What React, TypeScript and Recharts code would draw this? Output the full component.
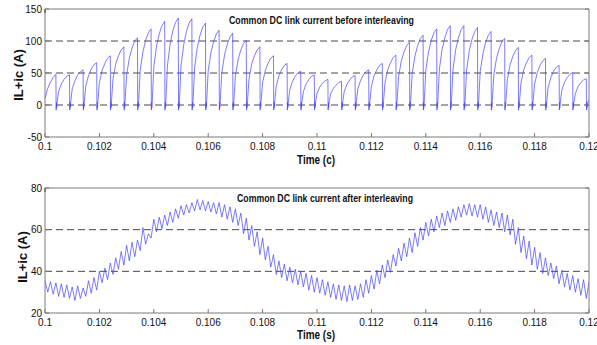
import React from 'react'
import { LineChart, Line, XAxis, YAxis, ReferenceLine } from 'recharts'

/* ---------- data ---------- */

const xTicks = [0.1, 0.102, 0.104, 0.106, 0.108, 0.11, 0.112, 0.114, 0.116, 0.118, 0.12]
const topYTicks = [-50, 0, 50, 100, 150]
const bottomYTicks = [20, 40, 60, 80]
const topGrid = [0, 50, 100]
const bottomGrid = [40, 60]

// before interleaving: first partial rise from 0.1 to the first drop at 0.1004
const pulseStart = [10, 26, 36, 43, 48]
// ringing right after each drop
const pulseFloor = [-8, 4, -4, 3]
// each following pulse: values 0.1, 0.2, 0.3, 0.4 ms after the drop, then the peak at the next drop
const pulseRows = [
  [21, 33, 40, 45, 47],
  [25, 38, 47, 52, 55],
  [30, 46, 56, 63, 66],
  [35, 54, 65, 73, 77],
  [41, 64, 77, 86, 91],
  [47, 73, 89, 100, 105],
  [54, 83, 101, 113, 119],
  [59, 92, 111, 124, 131],
  [61, 95, 116, 129, 136],
  [61, 94, 115, 128, 135],
  [58, 90, 109, 122, 128],
  [53, 82, 99, 111, 117],
  [50, 78, 95, 106, 112],
  [45, 71, 86, 96, 101],
  [41, 64, 77, 86, 91],
  [35, 54, 65, 73, 77],
  [29, 46, 55, 62, 65],
  [24, 37, 45, 50, 53],
  [21, 33, 40, 45, 47],
  [18, 28, 34, 38, 40],
  [17, 26, 31, 35, 37],
  [21, 32, 39, 44, 46],
  [25, 38, 47, 52, 55],
  [29, 46, 55, 62, 65],
  [35, 55, 66, 74, 78],
  [44, 69, 83, 93, 98],
  [49, 76, 93, 104, 109],
  [54, 83, 101, 113, 119],
  [56, 87, 105, 118, 124],
  [56, 87, 105, 118, 124],
  [54, 85, 103, 115, 121],
  [52, 80, 98, 109, 115],
  [47, 73, 88, 99, 104],
  [40, 63, 76, 85, 90],
  [35, 55, 66, 74, 78],
  [33, 51, 62, 69, 73],
  [28, 43, 53, 59, 62],
  [23, 36, 43, 48, 51],
  [18, 29, 35, 39, 41],
]
const pulseEnd = 8

// after interleaving: ripple tops (every 0.2 ms from 0.1) and bottoms (0.1 ms later)
const rippleHigh = [
  35.5, 35, 34.5, 34, 33.5, 32.5, 33, 32, 35.5, 37,
  40, 41.5, 44, 46.5, 49.5, 52.5, 54, 55, 61, 58,
  65, 66, 67, 68.5, 70, 71.5, 72, 73, 74.5, 74,
  73.5, 73, 73, 72, 71, 70, 68, 65.5, 62, 59,
  56, 52, 48, 45, 43.5, 42, 41, 40, 39, 38,
  37, 36, 35, 34, 33.5, 33, 33.5, 33, 34, 36,
  38, 40.5, 43, 45.5, 48, 51, 53.5, 56, 58.5, 61,
  63.5, 65, 66.5, 68, 69, 70, 71, 72, 72.5, 72,
  72, 71, 69.5, 68.5, 68, 67, 65, 61, 57, 54.5,
  51.5, 49, 46.5, 44, 42.5, 40.5, 39, 38, 36.5, 36,
  35,
]
const rippleLow = [
  30, 29, 28, 27.5, 27, 26, 27, 28, 29.5, 31,
  34.5, 36, 38.5, 41, 43, 45, 47, 50, 53, 56,
  59, 60.5, 62, 63.5, 65.5, 67, 68, 69, 69.5, 69,
  68.5, 67.5, 66, 65, 63.5, 62, 58, 55, 52, 48,
  45.5, 42, 38.5, 37, 35.5, 34.5, 33.5, 32.5, 31, 30,
  29.5, 28.5, 27.5, 26.5, 26, 25.5, 26, 26.5, 27.5, 29.5,
  31.5, 34, 37, 39.5, 42.5, 45, 47, 49, 52, 55,
  57, 59, 61, 62, 63.5, 64.5, 66, 67, 66.5, 66,
  65, 63.5, 62, 61, 59, 57.5, 53, 49, 46, 43,
  41, 39, 38, 36.5, 34, 32.5, 31, 30, 28.5, 27,
]

/* ---------- series tables ---------- */

const topData: { t: number; v: number }[] = []
pulseStart.forEach((v, i) => topData.push({ t: (1000 + i) / 10000, v }))
pulseRows.forEach((row, n) => {
  const ts = (10040 + 50 * n) / 100000
  pulseFloor.forEach((v, k) => topData.push({ t: ts + (k + 1) / 100000, v }))
  row.forEach((v, j) => topData.push({ t: ts + (j + 1) / 10000, v }))
})
{
  const ts = (10040 + 50 * pulseRows.length) / 100000
  pulseFloor.forEach((v, k) => topData.push({ t: ts + (k + 1) / 100000, v }))
  topData.push({ t: 0.12, v: pulseEnd })
}

const bottomData: { t: number; v: number }[] = []
rippleHigh.forEach((v, k) => {
  bottomData.push({ t: (1000 + 2 * k) / 10000, v })
  if (k < rippleLow.length) bottomData.push({ t: (1001 + 2 * k) / 10000, v: rippleLow[k] })
})

/* ---------- styling ---------- */

const FONT = '"Liberation Sans", Arial, sans-serif'
const AXIS = '#7a7a7a'
const LINE = '#4444ff'

function BottomTick(props: any) {
  const { x, y, payload } = props
  return (
    <g>
      <line x1={x} y1={y} x2={x} y2={y - 4} stroke={AXIS} />
      <text x={x} y={y + 13} textAnchor="middle" fontSize={10} fontFamily={FONT} fill="#111">
        {String(payload.value)}
      </text>
    </g>
  )
}

function TopTick(props: any) {
  const { x, y } = props
  return <line x1={x} y1={y} x2={x} y2={y + 4} stroke={AXIS} />
}

function LeftTick(props: any) {
  const { x, y, payload } = props
  return (
    <g>
      <line x1={x} y1={y} x2={x + 4} y2={y} stroke={AXIS} />
      <text x={x - 3} y={y + 3.5} textAnchor="end" fontSize={10} fontFamily={FONT} fill="#111">
        {String(payload.value)}
      </text>
    </g>
  )
}

function RightTick(props: any) {
  const { x, y } = props
  return <line x1={x} y1={y} x2={x - 4} y2={y} stroke={AXIS} />
}

function Panel({ data, height, marginTop, bottomH, yDomain, yTicks, grid }: any) {
  return (
    <LineChart width={597} height={height} data={data} margin={{ top: marginTop, right: 7, bottom: 0, left: 0 }}>
      <XAxis
        dataKey="t"
        type="number"
        domain={[0.1, 0.12]}
        ticks={xTicks}
        interval={0}
        allowDataOverflow
        height={bottomH}
        tickSize={0}
        tickMargin={0}
        tickLine={false}
        tick={<BottomTick />}
        axisLine={{ stroke: AXIS }}
      />
      <XAxis
        xAxisId="top"
        orientation="top"
        type="number"
        domain={[0.1, 0.12]}
        ticks={xTicks}
        interval={0}
        allowDataOverflow
        height={1}
        tickSize={0}
        tickMargin={0}
        tickLine={false}
        tick={<TopTick />}
        axisLine={{ stroke: AXIS }}
      />
      <YAxis
        type="number"
        domain={yDomain}
        ticks={yTicks}
        interval={0}
        allowDataOverflow
        width={45}
        tickSize={0}
        tickMargin={0}
        tickLine={false}
        tick={<LeftTick />}
        axisLine={{ stroke: AXIS }}
      />
      <YAxis
        yAxisId="right"
        orientation="right"
        type="number"
        domain={yDomain}
        ticks={yTicks}
        interval={0}
        allowDataOverflow
        width={1}
        tickSize={0}
        tickMargin={0}
        tickLine={false}
        tick={<RightTick />}
        axisLine={{ stroke: AXIS }}
      />
      {grid.map((g: number) => (
        <ReferenceLine key={g} y={g} stroke="#333" strokeWidth={0.9} strokeDasharray="7 4" />
      ))}
      <Line
        type="linear"
        dataKey="v"
        stroke={LINE}
        strokeWidth={0.7}
        dot={false}
        isAnimationActive={false}
      />
    </LineChart>
  )
}

export default function App() {
  const label = { fontFamily: FONT, fontWeight: 700, fill: '#111' }
  return (
    <div style={{ position: 'absolute', left: 0, top: 0, width: 597, height: 345, background: '#fff', overflow: 'hidden' }}>
      <div style={{ position: 'absolute', left: 0, top: 0 }}>
        <Panel data={topData} height={175} marginTop={8} bottomH={38} yDomain={[-50, 150]} yTicks={topYTicks} grid={topGrid} />
      </div>
      <div style={{ position: 'absolute', left: 0, top: 175 }}>
        <Panel data={bottomData} height={170} marginTop={12} bottomH={32} yDomain={[20, 80]} yTicks={bottomYTicks} grid={bottomGrid} />
      </div>
      <svg width={597} height={345} style={{ position: 'absolute', left: 0, top: 0, pointerEvents: 'none' }}>
        <text x={321.5} y={24} textAnchor="middle" fontSize={10} textLength={185} lengthAdjust="spacingAndGlyphs" {...label}>
          Common DC link current before interleaving
        </text>
        <text x={316} y={164} textAnchor="middle" fontSize={12} textLength={38} lengthAdjust="spacingAndGlyphs" {...label}>
          Time (c)
        </text>
        <text x={22.5} y={75} textAnchor="middle" fontSize={13} transform="rotate(-90 22.5 75)" {...label}>
          IL+ic (A)
        </text>
        <text x={325} y={202} textAnchor="middle" fontSize={10} textLength={176} lengthAdjust="spacingAndGlyphs" {...label}>
          Common DC link current after interleaving
        </text>
        <text x={316} y={339} textAnchor="middle" fontSize={12} textLength={38} lengthAdjust="spacingAndGlyphs" {...label}>
          Time (s)
        </text>
        <text x={27} y={257} textAnchor="middle" fontSize={13} transform="rotate(-90 27 257)" {...label}>
          IL+ic (A)
        </text>
      </svg>
    </div>
  )
}
